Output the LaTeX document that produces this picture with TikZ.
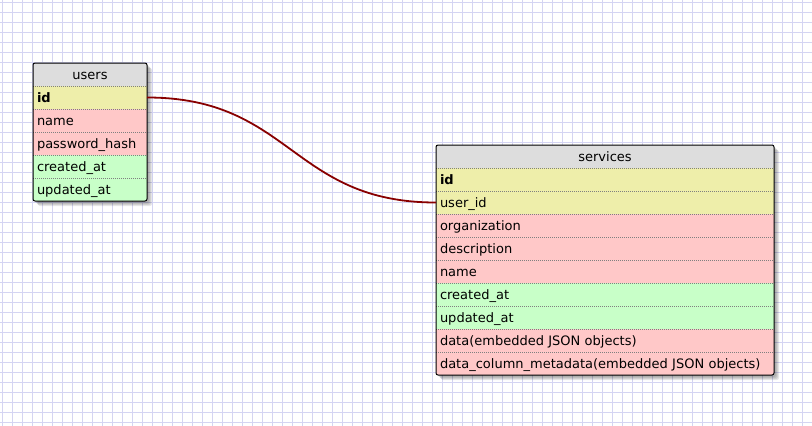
\documentclass[tikz,border=0pt]{standalone}
\usepackage{fontspec}
\setmainfont{DejaVu Sans}
\usetikzlibrary{positioning}
\definecolor{hdrgray}{RGB}{221,221,221}
\definecolor{keyyellow}{RGB}{238,238,170}
\definecolor{fieldpink}{RGB}{255,200,200}
\definecolor{timegreen}{RGB}{200,255,200}
\definecolor{gridblue}{RGB}{212,212,242}
\definecolor{reldark}{RGB}{136,0,0}
\pgfdeclarelayer{paper}
\pgfdeclarelayer{shade}
\pgfsetlayers{paper,shade,main}
\tikzset{
  cell/.style={rectangle, inner xsep=4pt, inner ysep=0pt, outer sep=0pt,
    minimum height=23pt, text height=11pt, text depth=0.5pt,
    font=\fontsize{13}{15}\selectfont, align=left},
  uwide/.style={minimum width=114pt, text width=106pt},
  swide/.style={minimum width=338pt, text width=330pt},
  hdr/.style={cell, fill=hdrgray, align=center},
  keyf/.style={cell, fill=keyyellow},
  plainf/.style={cell, fill=fieldpink},
  timef/.style={cell, fill=timegreen},
  gridline/.style={gridblue, line width=1pt},
  sep/.style={gray, line width=0.8pt, dash pattern=on 1pt off 1pt},
  frame/.style={black, line width=1pt, rounded corners=2pt},
  rel/.style={reldark, line width=1.8pt}
}

\begin{document}
\begin{tikzpicture}[x=1pt,y=-1pt]
\useasboundingbox (0,0) rectangle (812,426);

% users table
\node[hdr, uwide, anchor=north west] (users) at (33,63) {users};
\node[keyf, uwide, below=0pt of users] (uid) {\textbf{id}};
\node[plainf, uwide, below=0pt of uid] (uname) {name};
\node[plainf, uwide, below=0pt of uname] (upass) {password\_hash};
\node[timef, uwide, below=0pt of upass] (ucreated) {created\_at};
\node[timef, uwide, below=0pt of ucreated] (uupdated) {updated\_at};
\foreach \r in {users,uid,uname,upass,ucreated}
  \draw[sep] (\r.south west) -- (\r.south east);
\draw[frame] (users.north west) rectangle (uupdated.south east);

% services table
\node[hdr, swide, anchor=north west] (services) at (436,145) {services};
\node[keyf, swide, below=0pt of services] (sid) {\textbf{id}};
\node[keyf, swide, below=0pt of sid] (suser) {user\_id};
\node[plainf, swide, below=0pt of suser] (sorg) {organization};
\node[plainf, swide, below=0pt of sorg] (sdesc) {description};
\node[plainf, swide, below=0pt of sdesc] (sname) {name};
\node[timef, swide, below=0pt of sname] (screated) {created\_at};
\node[timef, swide, below=0pt of screated] (supdated) {updated\_at};
\node[plainf, swide, below=0pt of supdated] (sdata) {data(embedded JSON objects)};
\node[plainf, swide, below=0pt of sdata] (smeta) {data\_column\_metadata(embedded JSON objects)};
\foreach \r in {services,sid,suser,sorg,sdesc,sname,screated,supdated,sdata}
  \draw[sep] (\r.south west) -- (\r.south east);
\draw[frame] (services.north west) rectangle (smeta.south east);

% relation
\draw[rel] (uid.east) .. controls +(144,0) and +(-144,0) .. (suser.west);

% shadows
\begin{pgfonlayer}{shade}
\foreach \d in {2,3,4,5}
  \fill[black, opacity=0.09, rounded corners=2pt]
    ([shift={(\d pt,-\d pt)}]users.north west) rectangle ([shift={(\d pt,-\d pt)}]uupdated.south east)
    ([shift={(\d pt,-\d pt)}]services.north west) rectangle ([shift={(\d pt,-\d pt)}]smeta.south east);
\end{pgfonlayer}

% paper grid
\begin{pgfonlayer}{paper}
\foreach \k in {0,...,81}
  \draw[gridline] ({2+10*\k},0) -- ({2+10*\k},426);
\foreach \k in {0,...,42}
  \draw[gridline] (0,{2+10*\k}) -- (812,{2+10*\k});
\end{pgfonlayer}
\end{tikzpicture}
\end{document}
